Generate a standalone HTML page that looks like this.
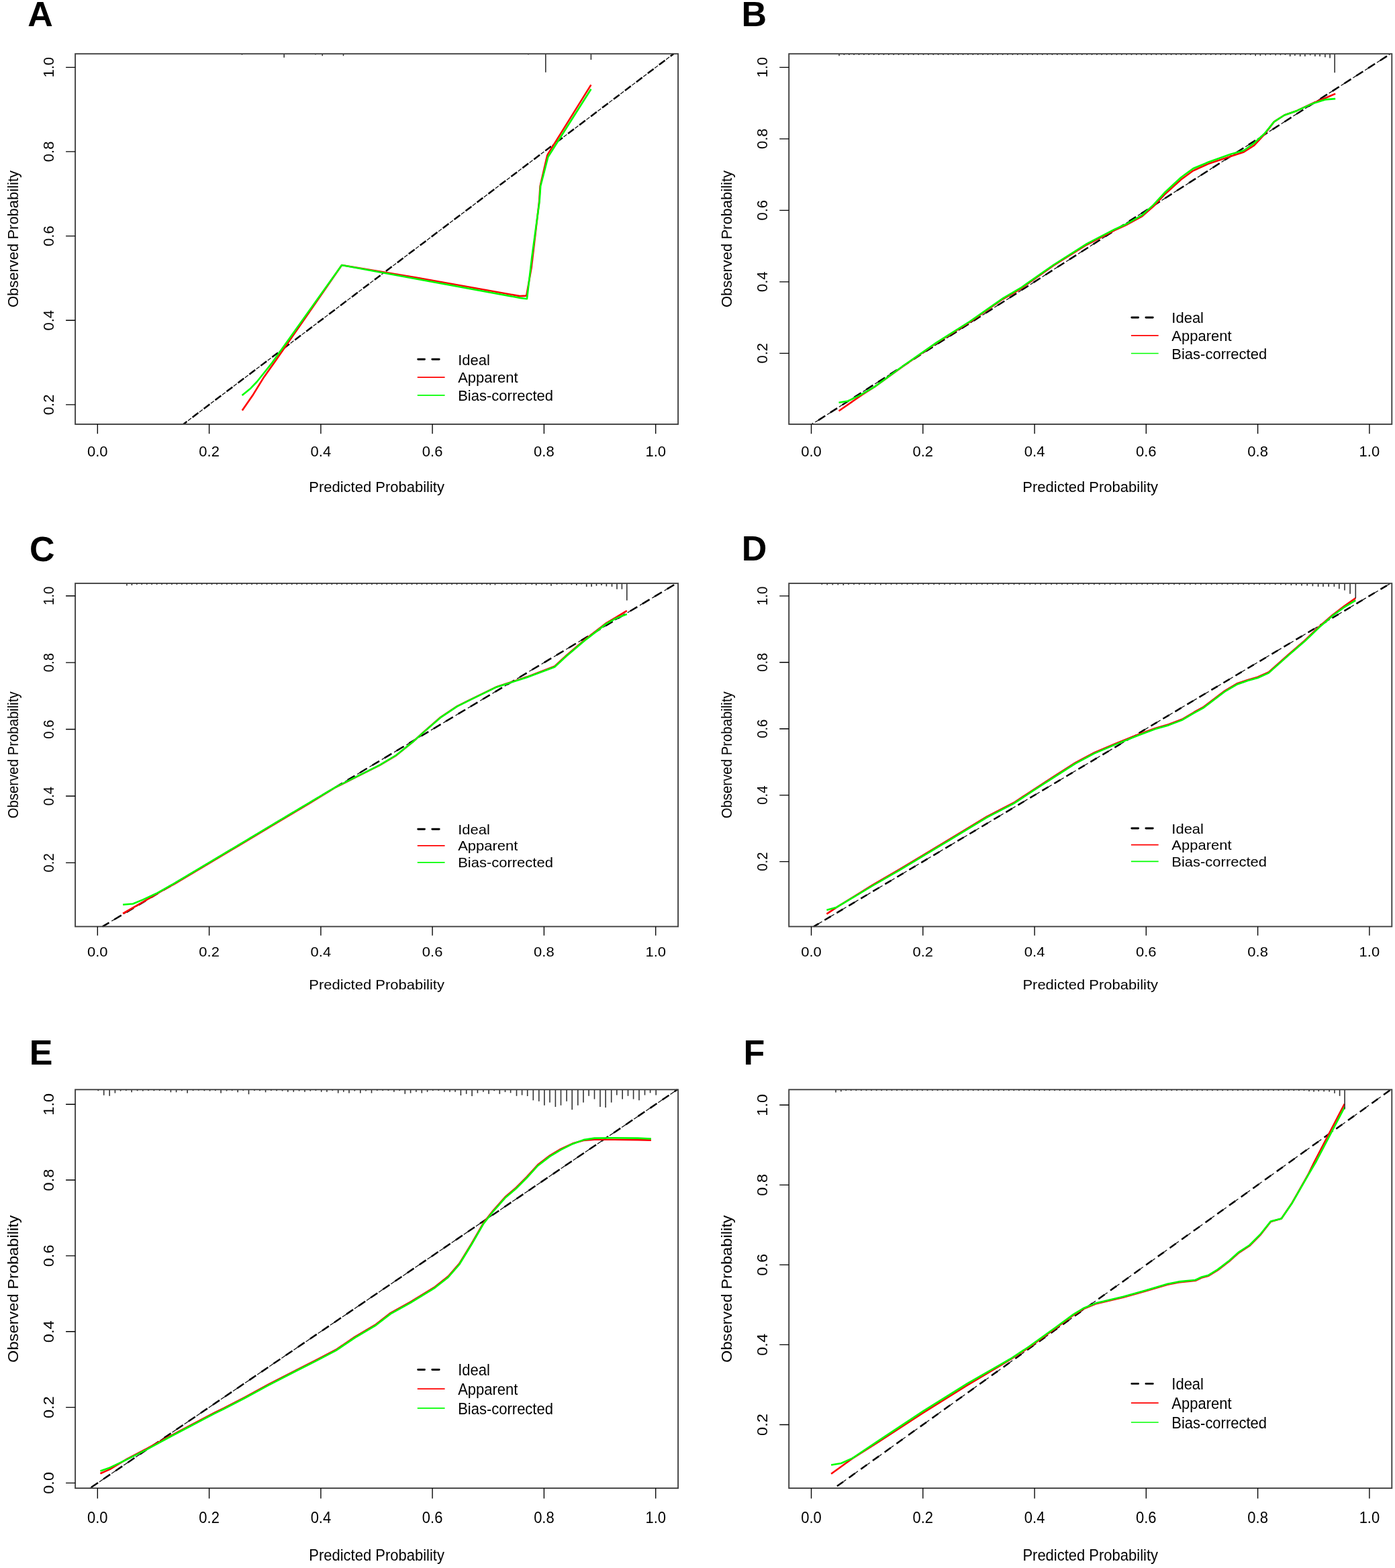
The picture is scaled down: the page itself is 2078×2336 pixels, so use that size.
<!DOCTYPE html>
<html><head><meta charset="utf-8"><title>Calibration curves</title>
<style>
html,body{margin:0;padding:0;background:#fff;}
body{width:2078px;height:2336px;overflow:hidden;}
svg{display:block;}
text{font-family:'Liberation Sans', Arial, Helvetica, sans-serif;font-size:22px;fill:#000;}
.lt{font-size:52px;font-weight:bold;}
.ax{fill:none;stroke:#404040;stroke-width:1.9;}
.rug{fill:none;stroke:#333;stroke-width:1.6;}
.tk{fill:none;stroke:#000;stroke-width:1.35;}
.cr{fill:none;stroke:#ff0000;stroke-width:2.6;stroke-linejoin:round;}
.cg{fill:none;stroke:#00ff00;stroke-width:2.6;stroke-linejoin:round;}
.i1{fill:none;stroke:#000;stroke-width:2.5;}
.i2{fill:none;stroke:#000;stroke-width:1.2;}
.lgi{fill:none;stroke:#000;stroke-width:2.9;stroke-linecap:round;}
.lgr{fill:none;stroke:#ff0000;stroke-width:1.7;}
.lgg{fill:none;stroke:#00ff00;stroke-width:1.7;}
</style></head>
<body>
<svg width="2078" height="2336" viewBox="0 0 2078 2336">
<rect width="2078" height="2336" fill="#fff"/>
<g id="pA">
<path class="i1" d="M273.2,631.9L1003.4,80.2" stroke-dasharray="11.00 10.25" stroke-dashoffset="4.39"/>
<path class="i2" d="M273.2,631.9L1003.4,80.2" stroke-dasharray="6.00 15.25" stroke-dashoffset="12.64"/>
<polyline class="cr" points="360.8,611.6 377.4,587.4 393.1,561.9 408.7,540 478,440 509.1,395 620,413.5 774.3,441.1 784.2,440.6 791.6,399 803.2,300 804.6,277.3 815.2,231.5 816.4,229.1 880.4,126.4"/>
<polyline class="cg" points="360.6,588.9 373.5,578.4 382.5,569 393.1,555.7 405.6,540 476.9,440 509.1,395 620,415.5 775.1,443.9 785,445.2 792.4,382.5 803.6,300 805.2,277.3 816.4,233.8 880.4,132.8"/>
<path class="rug" d="M360.5,80.2v1.5M423.2,80.2v5.5M469.9,80.2v1.2M480.2,80.2v3M511.5,80.2v3M787,80.2v1.2M812.8,80.2v27.5M880.4,80.2v8.7"/>
<rect class="ax" x="112.1" y="80.2" width="898" height="551.8"/>
<path class="tk" d="M145.3,631.9v14.3M311.6,631.9v14.3M477.9,631.9v14.3M644.1,631.9v14.3M810.4,631.9v14.3M976.7,631.9v14.3"/>
<text transform="translate(145.3,680.4)" text-anchor="middle">0.0</text>
<text transform="translate(311.6,680.4)" text-anchor="middle">0.2</text>
<text transform="translate(477.9,680.4)" text-anchor="middle">0.4</text>
<text transform="translate(644.1,680.4)" text-anchor="middle">0.6</text>
<text transform="translate(810.4,680.4)" text-anchor="middle">0.8</text>
<text transform="translate(976.7,680.4)" text-anchor="middle">1.0</text>
<path class="tk" d="M112.1,602.9h-14M112.1,477.2h-14M112.1,351.6h-14M112.1,225.9h-14M112.1,100.3h-14"/>
<text transform="translate(79.8,602.9) rotate(-90)" text-anchor="middle">0.2</text>
<text transform="translate(79.8,477.2) rotate(-90)" text-anchor="middle">0.4</text>
<text transform="translate(79.8,351.6) rotate(-90)" text-anchor="middle">0.6</text>
<text transform="translate(79.8,225.9) rotate(-90)" text-anchor="middle">0.8</text>
<text transform="translate(79.8,100.3) rotate(-90)" text-anchor="middle">1.0</text>
<text transform="translate(561.1,733.4)" text-anchor="middle">Predicted Probability</text>
<text transform="translate(26.7,356) rotate(-90)" text-anchor="middle">Observed Probability</text>
<path class="lgi" d="M622.7,535.3h9.8m11.3,0h10.4"/>
<path class="lgr" d="M621.8,562.1H662.6"/>
<path class="lgg" d="M621.8,588.8H662.6"/>
<text transform="translate(682.2,543.7)">Ideal</text>
<text transform="translate(682.2,570.3)">Apparent</text>
<text transform="translate(682.2,596.5)">Bias-corrected</text>
<text transform="translate(41.2,38.8)" class="lt">A</text>
</g>
<g id="pB">
<path class="i1" d="M1209.9,631.9L2071.4,80.2" stroke-dasharray="12.20 8.94" stroke-dashoffset="10.34"/>
<path class="i2" d="M1209.9,631.9L2071.4,80.2" stroke-dasharray="5.60 15.54" stroke-dashoffset="15.94"/>
<polyline class="cr" points="1249.5,612.3 1284.5,587.9 1302.6,576.4 1345.5,545.5 1395,511 1444.5,480 1494,445.5 1520,430.5 1569.5,395.5 1619,364.5 1660.3,343 1676.8,335.5 1701.5,322 1718,307.5 1734.5,290 1759.3,267.5 1777.4,254.3 1795.6,246 1800,244.1 1833,233.1 1852.8,226.5 1868.2,216.6 1883.6,200.1 1897.9,181.4 1913.3,171.5 1932,164.9 1956.2,153.4 1973.8,146.2 1989.2,139.6"/>
<polyline class="cg" points="1249.5,599.8 1263,597.5 1279.5,589.6 1302.6,576.4 1345.5,545 1395,510.4 1444.5,479 1494,444.4 1520,429.2 1569.5,394.5 1619,363.2 1660.3,341.7 1676.8,334.3 1701.5,320.3 1718,305.4 1734.5,287.3 1759.3,264.2 1777.4,251 1795.6,243.5 1800,241.4 1833,229.8 1852.8,224.3 1868.2,213.3 1883.6,199 1897.9,181.4 1913.3,171.5 1932,164.9 1956.2,153.9 1973.8,148.4 1989.2,147.1"/>
<path class="rug" d="M1250,80.2v3M1257.4,80.2v1.8M1264.8,80.2v1.8M1272.1,80.2v1.8M1279.5,80.2v1.8M1286.9,80.2v1.8M1294.3,80.2v1.8M1301.7,80.2v1.8M1309.1,80.2v1.8M1316.4,80.2v1.8M1323.8,80.2v1.8M1331.2,80.2v1.8M1338.6,80.2v1.8M1346,80.2v1.8M1353.3,80.2v1.8M1360.7,80.2v1.8M1368.1,80.2v1.8M1375.5,80.2v1.8M1382.9,80.2v1.8M1390.3,80.2v1.8M1397.6,80.2v1.8M1405,80.2v1.8M1412.4,80.2v1.8M1419.8,80.2v1.8M1427.2,80.2v1.8M1434.5,80.2v1.8M1441.9,80.2v1.8M1449.3,80.2v1.8M1456.7,80.2v1.8M1464.1,80.2v1.8M1471.5,80.2v1.8M1478.8,80.2v1.8M1486.2,80.2v1.8M1493.6,80.2v1.8M1501,80.2v1.8M1508.4,80.2v1.8M1515.8,80.2v1.8M1523.1,80.2v1.8M1530.5,80.2v1.8M1537.9,80.2v1.8M1545.3,80.2v1.8M1552.7,80.2v1.8M1560,80.2v1.8M1567.4,80.2v1.8M1574.8,80.2v1.8M1582.2,80.2v1.8M1589.6,80.2v1.8M1597,80.2v1.8M1604.3,80.2v1.8M1611.7,80.2v1.8M1619.1,80.2v1.8M1626.5,80.2v1.8M1633.9,80.2v1.8M1641.2,80.2v1.8M1648.6,80.2v1.8M1656,80.2v1.8M1663.4,80.2v1.8M1670.8,80.2v1.8M1678.2,80.2v1.8M1685.5,80.2v1.8M1692.9,80.2v1.8M1700.3,80.2v1.8M1707.7,80.2v1.8M1715.1,80.2v1.8M1722.4,80.2v1.8M1729.8,80.2v1.8M1737.2,80.2v1.8M1744.6,80.2v1.8M1752,80.2v1.8M1759.4,80.2v1.8M1766.7,80.2v1.8M1774.1,80.2v1.8M1781.5,80.2v1.8M1788.9,80.2v1.8M1796.3,80.2v1.8M1803.7,80.2v1.8M1811,80.2v1.8M1818.4,80.2v1.8M1825.8,80.2v1.8M1833.2,80.2v1.8M1840.6,80.2v1.8M1847.9,80.2v1.8M1855.3,80.2v1.8M1862.7,80.2v1.8M1870.2,80.2v3M1877.4,80.2v2.9M1885.2,80.2v2.4M1892.4,80.2v1.9M1900.2,80.2v2.4M1907.4,80.2v2.1M1914.5,80.2v1.9M1921.7,80.2v3.9M1928.9,80.2v2.9M1936.7,80.2v3.9M1943.9,80.2v3.9M1951.7,80.2v2.4M1958.9,80.2v3.9M1966.1,80.2v3.9M1973.9,80.2v5M1981.1,80.2v6.2M1988.2,80.2v28"/>
<rect class="ax" x="1175.2" y="80.2" width="898.1" height="551.8"/>
<path class="tk" d="M1208.5,631.9v14.3M1374.8,631.9v14.3M1541.1,631.9v14.3M1707.3,631.9v14.3M1873.6,631.9v14.3M2039.9,631.9v14.3"/>
<text transform="translate(1208.5,680.4)" text-anchor="middle">0.0</text>
<text transform="translate(1374.8,680.4)" text-anchor="middle">0.2</text>
<text transform="translate(1541.1,680.4)" text-anchor="middle">0.4</text>
<text transform="translate(1707.3,680.4)" text-anchor="middle">0.6</text>
<text transform="translate(1873.6,680.4)" text-anchor="middle">0.8</text>
<text transform="translate(2039.9,680.4)" text-anchor="middle">1.0</text>
<path class="tk" d="M1175.2,526.3h-14M1175.2,419.8h-14M1175.2,313.3h-14M1175.2,206.8h-14M1175.2,100.3h-14"/>
<text transform="translate(1142.9,526.3) rotate(-90)" text-anchor="middle">0.2</text>
<text transform="translate(1142.9,419.8) rotate(-90)" text-anchor="middle">0.4</text>
<text transform="translate(1142.9,313.3) rotate(-90)" text-anchor="middle">0.6</text>
<text transform="translate(1142.9,206.8) rotate(-90)" text-anchor="middle">0.8</text>
<text transform="translate(1142.9,100.3) rotate(-90)" text-anchor="middle">1.0</text>
<text transform="translate(1624.2,733.4)" text-anchor="middle">Predicted Probability</text>
<text transform="translate(1089.8,356) rotate(-90)" text-anchor="middle">Observed Probability</text>
<path class="lgi" d="M1685.8,473h9.8m11.3,0h10.4"/>
<path class="lgr" d="M1684.9,499.8H1725.7"/>
<path class="lgg" d="M1684.9,526.5H1725.7"/>
<text transform="translate(1745.3,481.3)">Ideal</text>
<text transform="translate(1745.3,508.1)">Apparent</text>
<text transform="translate(1745.3,534.8)">Bias-corrected</text>
<text transform="translate(1104.5,38.8)" class="lt">B</text>
</g>
<g id="pC">
<path class="i1" d="M152.7,1380.4L1007.8,869.1" stroke-dasharray="12.50 8.82" stroke-dashoffset="1.12"/>
<path class="i2" d="M152.7,1380.4L1007.8,869.1" stroke-dasharray="4.50 16.82" stroke-dashoffset="5.62"/>
<polyline class="cr" points="183.1,1361 214.5,1342.9 242.5,1326.4 259,1317.3 308.5,1287.8 358,1258.3 407.5,1228.7 460,1197.3 499.5,1173.2 532.5,1156.7 565.5,1140.2 590.3,1125.3 615,1105.2 631.5,1090.2 656.3,1068.6 681,1052.1 697.5,1043.9 740,1023.2 784.6,1008.6 826.1,992.8 844,976.3 873.7,951 903.4,928 918.2,919.4 933.8,909.8"/>
<polyline class="cg" points="183.1,1347.8 198,1346.5 212.8,1340.4 232.6,1331.3 259,1316.3 308.5,1286.8 358,1257.3 407.5,1227.7 460,1196.3 499.5,1172.9 532.5,1156.4 565.5,1139.9 590.3,1125 615,1105.2 631.5,1090.4 656.3,1068.9 681,1052.4 697.5,1044.2 740,1023.4 784.6,1009.3 826.1,993.7 844,977.3 873.7,952.1 903.4,929.1 918.2,920.9 933.8,915"/>
<path class="rug" d="M188.9,869.1v3.5M196.4,869.1v3M203.8,869.1v1.8M211.2,869.1v1.8M218.7,869.1v1.8M226.1,869.1v1.8M233.6,869.1v1.8M241,869.1v1.8M248.5,869.1v1.8M255.9,869.1v1.8M263.4,869.1v1.8M270.8,869.1v1.8M278.3,869.1v1.8M285.7,869.1v1.8M293.2,869.1v1.8M300.6,869.1v1.8M308.1,869.1v1.8M315.5,869.1v1.8M323,869.1v1.8M330.4,869.1v1.8M337.9,869.1v1.8M345.3,869.1v1.8M352.8,869.1v1.8M360.2,869.1v1.8M367.7,869.1v1.8M375.1,869.1v1.8M382.6,869.1v1.8M390,869.1v1.8M397.5,869.1v1.8M404.9,869.1v1.8M412.4,869.1v1.8M419.8,869.1v1.8M427.3,869.1v1.8M434.7,869.1v1.8M442.2,869.1v1.8M449.6,869.1v1.8M457.1,869.1v1.8M464.5,869.1v1.8M472,869.1v1.8M479.4,869.1v1.8M486.9,869.1v1.8M494.3,869.1v1.8M501.8,869.1v1.8M509.2,869.1v1.8M516.7,869.1v1.8M524.1,869.1v1.8M531.6,869.1v1.8M539,869.1v1.8M546.5,869.1v1.8M553.9,869.1v1.8M561.4,869.1v1.8M568.8,869.1v1.8M576.2,869.1v1.8M583.7,869.1v1.8M591.1,869.1v1.8M598.6,869.1v1.8M606,869.1v1.8M613.5,869.1v1.8M620.9,869.1v1.8M628.4,869.1v1.8M635.8,869.1v1.8M643.3,869.1v1.8M650.7,869.1v1.8M658.2,869.1v1.8M665.6,869.1v1.8M673.1,869.1v1.8M680.5,869.1v1.8M688,869.1v1.8M695.4,869.1v1.8M702.9,869.1v1.8M710.3,869.1v1.8M717.8,869.1v1.8M725.2,869.1v1.8M730.3,869.1v2.5M737.5,869.1v2.5M747.6,869.1v1.8M755,869.1v1.8M762.5,869.1v1.8M769.9,869.1v1.8M775.6,869.1v1.5M783.1,869.1v2.2M792.3,869.1v1.8M798.7,869.1v3M807.2,869.1v1.8M814.6,869.1v1.8M821,869.1v3.7M829.5,869.1v1.8M837,869.1v1.8M844,869.1v1.5M851.4,869.1v2.2M858.8,869.1v3M866.2,869.1v1.5M873.7,869.1v4.8M881.1,869.1v4.8M888.5,869.1v3.7M896,869.1v3M903.4,869.1v4.5M911.5,869.1v4.8M919,869.1v8.6M926.4,869.1v8.6M933.8,869.1v25.5"/>
<rect class="ax" x="112.1" y="869.1" width="898" height="511.3"/>
<path class="tk" d="M145.3,1380.4v13.3M311.6,1380.4v13.3M477.9,1380.4v13.3M644.1,1380.4v13.3M810.4,1380.4v13.3M976.7,1380.4v13.3"/>
<text transform="translate(145.3,1425.3) scale(1,0.9267)" text-anchor="middle">0.0</text>
<text transform="translate(311.6,1425.3) scale(1,0.9267)" text-anchor="middle">0.2</text>
<text transform="translate(477.9,1425.3) scale(1,0.9267)" text-anchor="middle">0.4</text>
<text transform="translate(644.1,1425.3) scale(1,0.9267)" text-anchor="middle">0.6</text>
<text transform="translate(810.4,1425.3) scale(1,0.9267)" text-anchor="middle">0.8</text>
<text transform="translate(976.7,1425.3) scale(1,0.9267)" text-anchor="middle">1.0</text>
<path class="tk" d="M112.1,1285.4h-14M112.1,1186h-14M112.1,1086.5h-14M112.1,987.1h-14M112.1,887.7h-14"/>
<text transform="translate(79.8,1285.4) scale(1,0.9267) rotate(-90)" text-anchor="middle">0.2</text>
<text transform="translate(79.8,1186) scale(1,0.9267) rotate(-90)" text-anchor="middle">0.4</text>
<text transform="translate(79.8,1086.5) scale(1,0.9267) rotate(-90)" text-anchor="middle">0.6</text>
<text transform="translate(79.8,987.1) scale(1,0.9267) rotate(-90)" text-anchor="middle">0.8</text>
<text transform="translate(79.8,887.7) scale(1,0.9267) rotate(-90)" text-anchor="middle">1.0</text>
<text transform="translate(561.1,1473.6) scale(1,0.9267)" text-anchor="middle">Predicted Probability</text>
<text transform="translate(26.7,1124.8) scale(1,0.9267) rotate(-90)" text-anchor="middle">Observed Probability</text>
<path class="lgi" d="M622.7,1235.3h9.8m11.3,0h10.4"/>
<path class="lgr" d="M621.8,1259.9H662.6"/>
<path class="lgg" d="M621.8,1284.9H662.6"/>
<text transform="translate(682.2,1242.7) scale(1,0.9267)">Ideal</text>
<text transform="translate(682.2,1267.4) scale(1,0.9267)">Apparent</text>
<text transform="translate(682.2,1291.8) scale(1,0.9267)">Bias-corrected</text>
<text transform="translate(44,835.6)" class="lt">C</text>
</g>
<g id="pD">
<path class="i1" d="M1212.1,1380.4L2071.3,869.1" stroke-dasharray="11.00 9.95" stroke-dashoffset="2.11"/>
<path class="i2" d="M1212.1,1380.4L2071.3,869.1" stroke-dasharray="5.40 15.55" stroke-dashoffset="11.86"/>
<polyline class="cr" points="1231.4,1361.6 1247.9,1350.7 1300,1318.3 1340,1295.2 1408.2,1254.1 1470,1216.6 1510,1196 1539.5,1176.5 1572.5,1155.1 1602.2,1136.1 1630.3,1121.2 1663.3,1107.2 1696.3,1094 1721,1085 1740.8,1079.3 1760.6,1071.8 1778.8,1061 1793.1,1053.1 1824.3,1029.3 1842.3,1018.6 1858.7,1012.9 1873.4,1008.8 1889.8,1001.4 1919.3,975.2 1943.9,953.9 1965.2,933.4 1984.9,916.2 2003,902.6 2019.3,891.1"/>
<polyline class="cg" points="1231.4,1355.8 1246.2,1351.7 1300,1319.5 1340,1296.4 1408.2,1255.3 1470,1217.8 1510,1197.2 1539.5,1177.7 1572.5,1156.3 1602.2,1137.3 1630.3,1122.4 1663.3,1108.4 1696.3,1095.2 1721,1086.1 1740.8,1080.4 1760.6,1072.9 1778.8,1062.2 1793.1,1054.3 1824.3,1030.5 1842.3,1019.8 1858.7,1014.1 1873.4,1010 1889.8,1002.6 1919.3,976.4 1943.9,955.1 1965.2,934.6 1984.9,917.4 2003,904.3 2019.3,894.4"/>
<path class="rug" d="M1224.3,869.1v1.8M1232.2,869.1v2.5M1240.3,869.1v2.5M1248.3,869.1v2.4M1256.3,869.1v2.9M1264,869.1v1.8M1272,869.1v1.8M1280,869.1v1.8M1287.9,869.1v1.8M1295.8,869.1v1.8M1303.8,869.1v1.8M1311.8,869.1v2.5M1319.7,869.1v1.8M1327.6,869.1v1.8M1335.6,869.1v1.8M1343.5,869.1v1.8M1351.5,869.1v1.8M1359.5,869.1v1.8M1367.4,869.1v1.8M1375.3,869.1v1.8M1383.3,869.1v1.8M1391.2,869.1v1.8M1399.2,869.1v1.8M1407.1,869.1v1.8M1415.1,869.1v1.8M1423,869.1v1.8M1431,869.1v1.8M1439,869.1v1.8M1446.9,869.1v1.8M1454.8,869.1v1.8M1462.8,869.1v1.8M1470.8,869.1v1.8M1478.7,869.1v1.8M1486.7,869.1v1.8M1494.6,869.1v1.8M1502.5,869.1v1.8M1510.5,869.1v1.8M1518.4,869.1v1.8M1526.4,869.1v1.8M1534.3,869.1v1.8M1542.3,869.1v1.8M1550.2,869.1v1.8M1558.2,869.1v1.8M1566.2,869.1v1.8M1574.1,869.1v1.8M1582,869.1v1.8M1590,869.1v1.8M1597.9,869.1v1.8M1605.9,869.1v1.8M1613.8,869.1v1.8M1621.8,869.1v1.8M1629.8,869.1v1.8M1637.7,869.1v1.8M1645.7,869.1v1.8M1653.6,869.1v1.8M1661.5,869.1v1.8M1669.5,869.1v1.8M1677.4,869.1v1.8M1685.4,869.1v1.8M1693.3,869.1v1.8M1701.3,869.1v1.8M1709.2,869.1v1.8M1717.2,869.1v1.8M1725.2,869.1v1.8M1733.1,869.1v1.8M1741,869.1v1.8M1749,869.1v1.8M1756.9,869.1v1.8M1764.9,869.1v1.8M1772.8,869.1v1.8M1780.8,869.1v1.8M1788.8,869.1v1.8M1796.7,869.1v1.8M1804.7,869.1v1.8M1812.6,869.1v1.8M1820.5,869.1v1.8M1828.5,869.1v1.8M1836.4,869.1v1.8M1844.4,869.1v1.8M1852.3,869.1v1.8M1860.3,869.1v1.8M1868.2,869.1v1.8M1876.2,869.1v1.8M1884.2,869.1v1.8M1891.5,869.1v1.6M1899.7,869.1v2.1M1907.9,869.1v2.1M1915.2,869.1v2.5M1923.4,869.1v2.8M1930.8,869.1v2.8M1939,869.1v3.3M1947.2,869.1v3.3M1955.4,869.1v4.1M1963.6,869.1v4.9M1971,869.1v4.9M1979.2,869.1v4.9M1987.4,869.1v4.9M1994.8,869.1v8.2M2003,869.1v10.3M2011.1,869.1v15.6M2019.3,869.1v22.1"/>
<rect class="ax" x="1175.2" y="869.1" width="898.1" height="511.3"/>
<path class="tk" d="M1208.5,1380.4v13.3M1374.8,1380.4v13.3M1541.1,1380.4v13.3M1707.3,1380.4v13.3M1873.6,1380.4v13.3M2039.9,1380.4v13.3"/>
<text transform="translate(1208.5,1425.3) scale(1,0.9267)" text-anchor="middle">0.0</text>
<text transform="translate(1374.8,1425.3) scale(1,0.9267)" text-anchor="middle">0.2</text>
<text transform="translate(1541.1,1425.3) scale(1,0.9267)" text-anchor="middle">0.4</text>
<text transform="translate(1707.3,1425.3) scale(1,0.9267)" text-anchor="middle">0.6</text>
<text transform="translate(1873.6,1425.3) scale(1,0.9267)" text-anchor="middle">0.8</text>
<text transform="translate(2039.9,1425.3) scale(1,0.9267)" text-anchor="middle">1.0</text>
<path class="tk" d="M1175.2,1283.6h-14M1175.2,1184.6h-14M1175.2,1085.7h-14M1175.2,986.7h-14M1175.2,887.8h-14"/>
<text transform="translate(1142.9,1283.6) scale(1,0.9267) rotate(-90)" text-anchor="middle">0.2</text>
<text transform="translate(1142.9,1184.6) scale(1,0.9267) rotate(-90)" text-anchor="middle">0.4</text>
<text transform="translate(1142.9,1085.7) scale(1,0.9267) rotate(-90)" text-anchor="middle">0.6</text>
<text transform="translate(1142.9,986.7) scale(1,0.9267) rotate(-90)" text-anchor="middle">0.8</text>
<text transform="translate(1142.9,887.8) scale(1,0.9267) rotate(-90)" text-anchor="middle">1.0</text>
<text transform="translate(1624.2,1473.6) scale(1,0.9267)" text-anchor="middle">Predicted Probability</text>
<text transform="translate(1089.8,1124.8) scale(1,0.9267) rotate(-90)" text-anchor="middle">Observed Probability</text>
<path class="lgi" d="M1685.8,1234h9.8m11.3,0h10.4"/>
<path class="lgr" d="M1684.9,1258.6H1725.7"/>
<path class="lgg" d="M1684.9,1283.3H1725.7"/>
<text transform="translate(1745.3,1241.7) scale(1,0.9267)">Ideal</text>
<text transform="translate(1745.3,1266.1) scale(1,0.9267)">Apparent</text>
<text transform="translate(1745.3,1290.5) scale(1,0.9267)">Bias-corrected</text>
<text transform="translate(1104.7,835)" class="lt">D</text>
</g>
<g id="pE">
<path class="i1" d="M134,2217.1L1009,1623.3" stroke-dasharray="12.20 9.67" stroke-dashoffset="19.52"/>
<path class="i2" d="M134,2217.1L1009,1623.3" stroke-dasharray="7.40 14.47" stroke-dashoffset="5.05"/>
<polyline class="cr" points="149.4,2195.3 163.8,2188.9 189.5,2173.4 219.2,2158 239,2147.1 268.7,2131.3 300,2115 320,2104.5 332.9,2098.2 364.4,2081.8 400.1,2062.5 443,2040.3 471.6,2026 500.2,2011 528.8,1991.7 560,1973.1 581.8,1956.1 611.5,1939.6 647.8,1917.3 667.6,1901.6 684.1,1882.7 702.3,1853 720.4,1821.6 734.6,1803.5 752.5,1783.3 768.7,1769.5 784.9,1753.2 801.1,1735.4 819,1721.6 835.2,1711.9 853,1703.6 869.3,1699 885.5,1697.8 914.7,1697.8 950.4,1698.1 969.9,1698.6"/>
<polyline class="cg" points="149.4,2191.4 163.8,2186.4 189.5,2174.1 219.2,2159.2 239,2148.3 268.7,2132.5 300,2116.2 320,2105.7 332.9,2099.4 364.4,2083 400.1,2063.7 443,2041.5 471.6,2027.2 500.2,2012.2 528.8,1992.9 560,1974.3 581.8,1957.4 611.5,1940.9 647.8,1918.6 667.6,1902.9 684.1,1884 702.3,1854.3 720.4,1822.9 734.6,1804.8 752.5,1784.6 768.7,1770.8 784.9,1754.5 801.1,1736.7 819,1722.9 835.2,1713.2 853,1704.2 869.3,1698.1 885.5,1695.6 914.7,1695.3 950.4,1695.6 969.9,1696.5"/>
<path class="rug" d="M146.3,1623.3v1.9M154.7,1623.3v8.5M163.2,1623.3v9.5M171.4,1623.3v5.3M179.6,1623.3v2.2M187.8,1623.3v1.8M196.1,1623.3v3.9M204.6,1623.3v1.9M212.8,1623.3v2.2M221.1,1623.3v1.8M229.4,1623.3v1.9M237.7,1623.3v1.8M245.9,1623.3v1.9M254.4,1623.3v3.9M262.6,1623.3v3.9M270.8,1623.3v1.9M279.1,1623.3v5.3M287.6,1623.3v1.8M295.8,1623.3v1.4M304.4,1623.3v1.9M312.6,1623.3v2.2M320.8,1623.3v1.8M329.1,1623.3v5.3M337.6,1623.3v2.2M345.7,1623.3v1.8M354.2,1623.3v3.9M362.3,1623.3v1.8M370.5,1623.3v7M379,1623.3v1.8M387.1,1623.3v1.9M395.6,1623.3v3.9M403.9,1623.3v1.8M412.1,1623.3v1.9M420.6,1623.3v2.3M428.8,1623.3v3.5M437.3,1623.3v3.5M445.6,1623.3v2.3M454,1623.3v3.5M462.3,1623.3v2.3M470.4,1623.3v1.8M478.7,1623.3v3.5M486.9,1623.3v3.5M495.3,1623.3v1.8M503.7,1623.3v5.3M511.8,1623.3v3.5M520,1623.3v5.3M528.3,1623.3v2.3M536.8,1623.3v5.3M545,1623.3v2.3M553.5,1623.3v5.3M561.8,1623.3v1.8M570.2,1623.3v1.8M578.5,1623.3v1.8M586.9,1623.3v3.5M595.2,1623.3v1.8M603.3,1623.3v6.5M611.6,1623.3v5.3M619.9,1623.3v3.5M628.3,1623.3v5.3M636.6,1623.3v3.5M644.8,1623.3v1.8M653.3,1623.3v1.8M661.8,1623.3v3.5M670,1623.3v3.5M678.1,1623.3v3.5M686.4,1623.3v8.8M694.7,1623.3v6.5M703.1,1623.3v9.7M711.4,1623.3v5.3M719.9,1623.3v3.5M728.1,1623.3v6.5M736.2,1623.3v1.9M744.3,1623.3v6.5M752.5,1623.3v3.6M760.6,1623.3v4.9M769.5,1623.3v9.4M777.6,1623.3v8.1M785.7,1623.3v9.7M794.3,1623.3v15.9M802.8,1623.3v17.5M810.9,1623.3v23.5M819,1623.3v19.1M827.4,1623.3v25.6M835.5,1623.3v23.5M844.1,1623.3v17.5M852.2,1623.3v30M860.8,1623.3v23.5M869,1623.3v19.1M877.1,1623.3v9.4M885.5,1623.3v14.3M894,1623.3v25.6M902.1,1623.3v26.8M910.7,1623.3v19.1M918.8,1623.3v8.1M927.2,1623.3v14.3M935.5,1623.3v9.4M943.6,1623.3v14.3M952,1623.3v15.9M960.5,1623.3v8.1M968.6,1623.3v4.9M977.2,1623.3v8.1"/>
<rect class="ax" x="112.1" y="1623.3" width="898" height="593.8"/>
<path class="tk" d="M145.3,2217.1v15.4M311.6,2217.1v15.4M477.9,2217.1v15.4M644.1,2217.1v15.4M810.4,2217.1v15.4M976.7,2217.1v15.4"/>
<text transform="translate(145.3,2269.3) scale(1,1.0758)" text-anchor="middle">0.0</text>
<text transform="translate(311.6,2269.3) scale(1,1.0758)" text-anchor="middle">0.2</text>
<text transform="translate(477.9,2269.3) scale(1,1.0758)" text-anchor="middle">0.4</text>
<text transform="translate(644.1,2269.3) scale(1,1.0758)" text-anchor="middle">0.6</text>
<text transform="translate(810.4,2269.3) scale(1,1.0758)" text-anchor="middle">0.8</text>
<text transform="translate(976.7,2269.3) scale(1,1.0758)" text-anchor="middle">1.0</text>
<path class="tk" d="M112.1,2209.4h-14M112.1,2096.6h-14M112.1,1983.7h-14M112.1,1870.9h-14M112.1,1758h-14M112.1,1645.2h-14"/>
<text transform="translate(79.8,2209.4) scale(1,1.0758) rotate(-90)" text-anchor="middle">0.0</text>
<text transform="translate(79.8,2096.6) scale(1,1.0758) rotate(-90)" text-anchor="middle">0.2</text>
<text transform="translate(79.8,1983.7) scale(1,1.0758) rotate(-90)" text-anchor="middle">0.4</text>
<text transform="translate(79.8,1870.9) scale(1,1.0758) rotate(-90)" text-anchor="middle">0.6</text>
<text transform="translate(79.8,1758) scale(1,1.0758) rotate(-90)" text-anchor="middle">0.8</text>
<text transform="translate(79.8,1645.2) scale(1,1.0758) rotate(-90)" text-anchor="middle">1.0</text>
<text transform="translate(561.1,2325.4) scale(1,1.0758)" text-anchor="middle">Predicted Probability</text>
<text transform="translate(26.7,1920.2) scale(1,1.0758) rotate(-90)" text-anchor="middle">Observed Probability</text>
<path class="lgi" d="M622.7,2040.5h9.8m11.3,0h10.4"/>
<path class="lgr" d="M621.8,2069.1H662.6"/>
<path class="lgg" d="M621.8,2097.9H662.6"/>
<text transform="translate(682.2,2048.8) scale(1,1.0758)">Ideal</text>
<text transform="translate(682.2,2077.7) scale(1,1.0758)">Apparent</text>
<text transform="translate(682.2,2106.5) scale(1,1.0758)">Bias-corrected</text>
<text transform="translate(43.7,1586.1)" class="lt">E</text>
</g>
<g id="pF">
<path class="i1" d="M1242.7,2217.1L2071.9,1623.3" stroke-dasharray="11.50 10.27" stroke-dashoffset="16.62"/>
<path class="i2" d="M1242.7,2217.1L2071.9,1623.3" stroke-dasharray="4.70 17.07" stroke-dashoffset="4.82"/>
<polyline class="cr" points="1238.1,2195.7 1267.8,2174.2 1309,2147.8 1375,2104.9 1441,2063.7 1505,2025.5 1533,2007.2 1574.3,1977.5 1599,1959.3 1613.9,1950 1632,1942.6 1673.3,1932.7 1706.3,1923.6 1739.3,1913.7 1755.8,1910.4 1780.5,1908 1790,1903.5 1799.5,1901.1 1813.8,1892.4 1831.2,1879 1845.4,1866.3 1861.3,1856 1877.1,1840.2 1893,1820 1908.8,1815.4 1924.7,1792 1948.4,1750.2 1958.3,1730 2002.8,1644.7"/>
<polyline class="cg" points="1238.1,2182.5 1252.9,2180 1269.4,2172.6 1309,2146.2 1375,2102.4 1441,2061.2 1505,2024.5 1533,2006 1574.3,1976.3 1599,1958.1 1613.9,1949 1632,1941.6 1673.3,1931.7 1706.3,1922.6 1739.3,1912.7 1755.8,1909.4 1780.5,1907 1790,1902.5 1799.5,1900.1 1813.8,1891.4 1831.2,1878 1845.4,1865.3 1861.3,1855 1877.1,1839.2 1893,1819.4 1908.8,1815.4 1924.7,1792.4 1948.4,1751.2 1960.8,1730 2003.1,1649.1"/>
<path class="rug" d="M1245,1623.3v4.3M1252.8,1623.3v3M1260.2,1623.3v1.8M1267.7,1623.3v1.8M1275.3,1623.3v1.8M1282.9,1623.3v1.8M1290.5,1623.3v1.8M1298.1,1623.3v1.8M1305.6,1623.3v1.8M1313.2,1623.3v1.8M1320.8,1623.3v1.8M1328.4,1623.3v1.8M1336,1623.3v1.8M1343.6,1623.3v1.8M1351.1,1623.3v1.8M1358.7,1623.3v1.8M1366.3,1623.3v1.8M1373.9,1623.3v1.8M1381.5,1623.3v1.8M1389,1623.3v1.8M1396.6,1623.3v1.8M1404.2,1623.3v1.8M1411.8,1623.3v1.8M1419.4,1623.3v1.8M1426.9,1623.3v1.8M1434.5,1623.3v1.8M1442.1,1623.3v1.8M1449.7,1623.3v1.8M1457.3,1623.3v1.8M1464.8,1623.3v1.8M1472.4,1623.3v1.8M1480,1623.3v1.8M1487.6,1623.3v1.8M1495.2,1623.3v1.8M1502.8,1623.3v1.8M1510.3,1623.3v1.8M1517.9,1623.3v1.8M1525.5,1623.3v1.8M1533.1,1623.3v1.8M1540.7,1623.3v1.8M1548.2,1623.3v1.8M1555.8,1623.3v1.8M1563.4,1623.3v1.8M1571,1623.3v1.8M1578.6,1623.3v1.8M1586.1,1623.3v1.8M1593.7,1623.3v1.8M1601.3,1623.3v1.8M1608.9,1623.3v1.8M1616.5,1623.3v1.8M1624,1623.3v1.8M1631.6,1623.3v1.8M1639.2,1623.3v1.8M1646.8,1623.3v1.8M1654.4,1623.3v1.8M1662,1623.3v1.8M1669.5,1623.3v1.8M1677.1,1623.3v1.8M1684.7,1623.3v1.8M1692.3,1623.3v1.8M1699.9,1623.3v1.8M1707.4,1623.3v1.8M1715,1623.3v1.8M1722.6,1623.3v1.8M1730.2,1623.3v1.8M1737.8,1623.3v1.8M1745.3,1623.3v1.8M1752.9,1623.3v1.8M1760.5,1623.3v1.8M1768.1,1623.3v1.8M1775.7,1623.3v1.8M1783.3,1623.3v1.8M1790.8,1623.3v1.8M1798.4,1623.3v1.8M1806,1623.3v1.8M1813.6,1623.3v1.8M1821.2,1623.3v1.8M1828.7,1623.3v1.8M1836.3,1623.3v1.8M1843.9,1623.3v1.8M1851.5,1623.3v1.8M1859.1,1623.3v1.8M1866.6,1623.3v1.8M1874.2,1623.3v1.8M1881.8,1623.3v1.8M1889.4,1623.3v1.8M1897,1623.3v1.8M1904.5,1623.3v1.8M1912.1,1623.3v1.8M1919.7,1623.3v1.8M1927.3,1623.3v1.8M1934.9,1623.3v1.8M1942.5,1623.3v1.8M1950,1623.3v2.8M1957.1,1623.3v3.2M1964.3,1623.3v2.8M1972.2,1623.3v2.9M1980.1,1623.3v3.2M1988,1623.3v5.5M1995.6,1623.3v9.5M2003.1,1623.3v29.3"/>
<rect class="ax" x="1175.2" y="1623.3" width="898.1" height="593.8"/>
<path class="tk" d="M1208.5,2217.1v15.4M1374.8,2217.1v15.4M1541.1,2217.1v15.4M1707.3,2217.1v15.4M1873.6,2217.1v15.4M2039.9,2217.1v15.4"/>
<text transform="translate(1208.5,2269.3) scale(1,1.0758)" text-anchor="middle">0.0</text>
<text transform="translate(1374.8,2269.3) scale(1,1.0758)" text-anchor="middle">0.2</text>
<text transform="translate(1541.1,2269.3) scale(1,1.0758)" text-anchor="middle">0.4</text>
<text transform="translate(1707.3,2269.3) scale(1,1.0758)" text-anchor="middle">0.6</text>
<text transform="translate(1873.6,2269.3) scale(1,1.0758)" text-anchor="middle">0.8</text>
<text transform="translate(2039.9,2269.3) scale(1,1.0758)" text-anchor="middle">1.0</text>
<path class="tk" d="M1175.2,2122.5h-14M1175.2,2003.4h-14M1175.2,1884.4h-14M1175.2,1765.3h-14M1175.2,1646.2h-14"/>
<text transform="translate(1142.9,2122.5) scale(1,1.0758) rotate(-90)" text-anchor="middle">0.2</text>
<text transform="translate(1142.9,2003.4) scale(1,1.0758) rotate(-90)" text-anchor="middle">0.4</text>
<text transform="translate(1142.9,1884.4) scale(1,1.0758) rotate(-90)" text-anchor="middle">0.6</text>
<text transform="translate(1142.9,1765.3) scale(1,1.0758) rotate(-90)" text-anchor="middle">0.8</text>
<text transform="translate(1142.9,1646.2) scale(1,1.0758) rotate(-90)" text-anchor="middle">1.0</text>
<text transform="translate(1624.2,2325.4) scale(1,1.0758)" text-anchor="middle">Predicted Probability</text>
<text transform="translate(1089.8,1920.2) scale(1,1.0758) rotate(-90)" text-anchor="middle">Observed Probability</text>
<path class="lgi" d="M1685.8,2061.4h9.8m11.3,0h10.4"/>
<path class="lgr" d="M1684.9,2090.2H1725.7"/>
<path class="lgg" d="M1684.9,2119H1725.7"/>
<text transform="translate(1745.3,2070) scale(1,1.0758)">Ideal</text>
<text transform="translate(1745.3,2098.8) scale(1,1.0758)">Apparent</text>
<text transform="translate(1745.3,2127.6) scale(1,1.0758)">Bias-corrected</text>
<text transform="translate(1107.5,1586.1)" class="lt">F</text>
</g>
</svg>
</body></html>
